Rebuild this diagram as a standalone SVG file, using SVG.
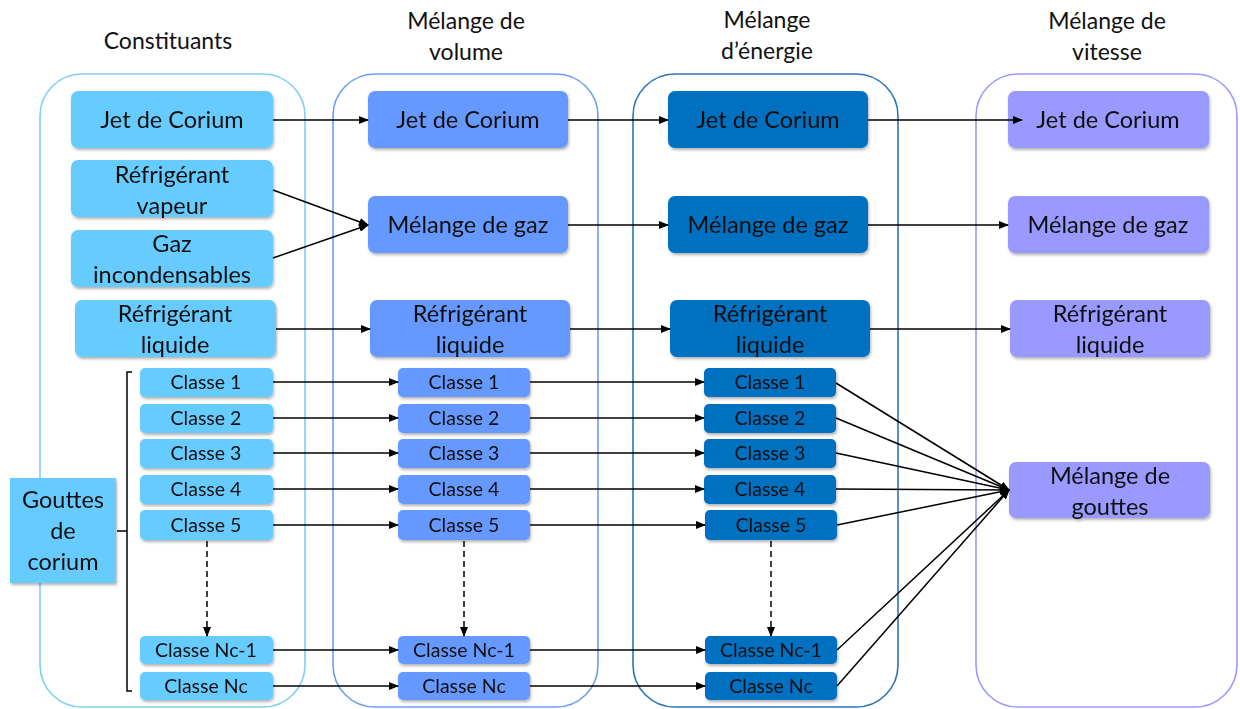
<svg xmlns="http://www.w3.org/2000/svg" width="1240" height="709" viewBox="0 0 1240 709">
<style>
text{font-family:Lato,"Open Sans","Liberation Sans",sans-serif;fill:#111;text-anchor:middle}
.h{font-size:23px}
.b{font-size:23.5px}
.c{font-size:19.5px}
.cont{fill:#fff;stroke-width:1.6}
.n1{fill:#66CCFF}
.n2{fill:#6699FF}
.n3{fill:#0070C0}
.n4{fill:#9999FF}
.ln{stroke:#000;stroke-width:1.5;fill:none}
.dash{stroke:#000;stroke-width:1.5;fill:none;stroke-dasharray:6,4}
</style>
<defs>
<marker id="ar" markerWidth="10" markerHeight="8" refX="9" refY="4" orient="auto" markerUnits="userSpaceOnUse">
<path d="M0,0 L10,4 L0,8 z" fill="#000"/>
</marker>
<filter id="sh" x="-10%" y="-10%" width="120%" height="130%">
<feDropShadow dx="1" dy="2" stdDeviation="1.5" flood-color="#000" flood-opacity="0.3"/>
</filter>
</defs>
<rect width="1240" height="709" fill="#fff"/>

<g id="headers">
<text class="h" x="168" y="49">Constituants</text>
<text class="h" x="466" y="29">Mélange de</text>
<text class="h" x="466" y="60">volume</text>
<text class="h" x="767" y="28">Mélange</text>
<text class="h" x="767" y="59">d’énergie</text>
<text class="h" x="1107" y="29">Mélange de</text>
<text class="h" x="1107" y="60">vitesse</text>
</g>

<g id="containers">
<rect class="cont" x="40" y="74" width="265" height="633" rx="42" stroke="#7FCFF5"/>
<rect class="cont" x="333" y="74" width="265" height="633" rx="42" stroke="#6C9EF0"/>
<rect class="cont" x="633" y="74" width="265" height="633" rx="42" stroke="#2E75B6"/>
<rect class="cont" x="976" y="74" width="261" height="633" rx="42" stroke="#9999FF"/>
</g>

<g id="col1" filter="url(#sh)">
<g id="c1-jet"><rect class="n1" x="71" y="91" width="202" height="57" rx="7"/><text class="b" x="172" y="128">Jet de Corium</text></g>
<g id="c1-vap"><rect class="n1" x="71" y="160" width="202" height="57" rx="7"/><text class="b" x="172" y="183">Réfrigérant</text><text class="b" x="172" y="214">vapeur</text></g>
<g id="c1-gaz"><rect class="n1" x="71" y="230" width="202" height="57" rx="7"/><text class="b" x="172" y="252">Gaz</text><text class="b" x="172" y="283">incondensables</text></g>
<g id="c1-liq"><rect class="n1" x="75" y="300" width="201" height="57" rx="7"/><text class="b" x="175" y="322">Réfrigérant</text><text class="b" x="175" y="353">liquide</text></g>
<g id="c1-gouttes"><rect class="n1" x="10" y="478" width="106" height="105"/><text class="b" x="63" y="508">Gouttes</text><text class="b" x="63" y="539">de</text><text class="b" x="63" y="570">corium</text></g>
<g id="c1-k1"><rect class="n1" x="140" y="368" width="133" height="29" rx="5"/><text class="c" x="206" y="389">Classe 1</text></g>
<g id="c1-k2"><rect class="n1" x="140" y="404" width="133" height="29" rx="5"/><text class="c" x="206" y="425">Classe 2</text></g>
<g id="c1-k3"><rect class="n1" x="140" y="439" width="133" height="29" rx="5"/><text class="c" x="206" y="460">Classe 3</text></g>
<g id="c1-k4"><rect class="n1" x="140" y="475" width="133" height="29" rx="5"/><text class="c" x="206" y="496">Classe 4</text></g>
<g id="c1-k5"><rect class="n1" x="140" y="510" width="133" height="30" rx="5"/><text class="c" x="206" y="532">Classe 5</text></g>
<g id="c1-knc1"><rect class="n1" x="140" y="636" width="133" height="28" rx="5"/><text class="c" x="206" y="657">Classe Nc-1</text></g>
<g id="c1-knc"><rect class="n1" x="140" y="672" width="133" height="28" rx="5"/><text class="c" x="206" y="693">Classe Nc</text></g>
</g>

<g id="col2" filter="url(#sh)">
<g id="c2-jet"><rect class="n2" x="368" y="91" width="200" height="57" rx="7"/><text class="b" x="468" y="128">Jet de Corium</text></g>
<g id="c2-gaz"><rect class="n2" x="368" y="196" width="200" height="57" rx="7"/><text class="b" x="468" y="233">Mélange de gaz</text></g>
<g id="c2-liq"><rect class="n2" x="370" y="300" width="200" height="57" rx="7"/><text class="b" x="470" y="322">Réfrigérant</text><text class="b" x="470" y="353">liquide</text></g>
<g id="c2-k1"><rect class="n2" x="398" y="368" width="132" height="29" rx="5"/><text class="c" x="464" y="389">Classe 1</text></g>
<g id="c2-k2"><rect class="n2" x="398" y="404" width="132" height="29" rx="5"/><text class="c" x="464" y="425">Classe 2</text></g>
<g id="c2-k3"><rect class="n2" x="398" y="439" width="132" height="29" rx="5"/><text class="c" x="464" y="460">Classe 3</text></g>
<g id="c2-k4"><rect class="n2" x="398" y="475" width="132" height="29" rx="5"/><text class="c" x="464" y="496">Classe 4</text></g>
<g id="c2-k5"><rect class="n2" x="398" y="510" width="132" height="30" rx="5"/><text class="c" x="464" y="532">Classe 5</text></g>
<g id="c2-knc1"><rect class="n2" x="398" y="636" width="132" height="28" rx="5"/><text class="c" x="464" y="657">Classe Nc-1</text></g>
<g id="c2-knc"><rect class="n2" x="398" y="672" width="132" height="28" rx="5"/><text class="c" x="464" y="693">Classe Nc</text></g>
</g>

<g id="col3" filter="url(#sh)">
<g id="c3-jet"><rect class="n3" x="668" y="91" width="200" height="57" rx="7"/><text class="b" x="768" y="128">Jet de Corium</text></g>
<g id="c3-gaz"><rect class="n3" x="668" y="196" width="200" height="57" rx="7"/><text class="b" x="768" y="233">Mélange de gaz</text></g>
<g id="c3-liq"><rect class="n3" x="670" y="300" width="200" height="57" rx="7"/><text class="b" x="770" y="322">Réfrigérant</text><text class="b" x="770" y="353">liquide</text></g>
<g id="c3-k1"><rect class="n3" x="704" y="368" width="132" height="29" rx="5"/><text class="c" x="770" y="389">Classe 1</text></g>
<g id="c3-k2"><rect class="n3" x="704" y="404" width="132" height="29" rx="5"/><text class="c" x="770" y="425">Classe 2</text></g>
<g id="c3-k3"><rect class="n3" x="704" y="439" width="132" height="29" rx="5"/><text class="c" x="770" y="460">Classe 3</text></g>
<g id="c3-k4"><rect class="n3" x="704" y="475" width="132" height="29" rx="5"/><text class="c" x="770" y="496">Classe 4</text></g>
<g id="c3-k5"><rect class="n3" x="705" y="510" width="132" height="30" rx="5"/><text class="c" x="771" y="532">Classe 5</text></g>
<g id="c3-knc1"><rect class="n3" x="705" y="636" width="132" height="28" rx="5"/><text class="c" x="771" y="657">Classe Nc-1</text></g>
<g id="c3-knc"><rect class="n3" x="705" y="672" width="132" height="28" rx="5"/><text class="c" x="771" y="693">Classe Nc</text></g>
</g>

<g id="col4" filter="url(#sh)">
<g id="c4-jet"><rect class="n4" x="1008" y="91" width="201" height="57" rx="7"/><text class="b" x="1108" y="128">Jet de Corium</text></g>
<g id="c4-gaz"><rect class="n4" x="1008" y="196" width="201" height="57" rx="7"/><text class="b" x="1108" y="233">Mélange de gaz</text></g>
<g id="c4-liq"><rect class="n4" x="1010" y="300" width="200" height="57" rx="7"/><text class="b" x="1110" y="322">Réfrigérant</text><text class="b" x="1110" y="353">liquide</text></g>
<g id="c4-gouttes"><rect class="n4" x="1009" y="462" width="201" height="56" rx="7"/><text class="b" x="1110" y="484">Mélange de</text><text class="b" x="1110" y="515">gouttes</text></g>
</g>

<g id="connectors">
<path class="ln" d="M132,372 H127 V691 H132 M117,531 H127"/>
<path class="ln" marker-end="url(#ar)" d="M273,120 H368"/>
<path class="ln" marker-end="url(#ar)" d="M273,190 L368,225"/>
<path class="ln" marker-end="url(#ar)" d="M273,258 L368,225"/>
<path class="ln" marker-end="url(#ar)" d="M276,329 H370"/>
<path class="ln" marker-end="url(#ar)" d="M273,382 H398"/>
<path class="ln" marker-end="url(#ar)" d="M273,418 H398"/>
<path class="ln" marker-end="url(#ar)" d="M273,453 H398"/>
<path class="ln" marker-end="url(#ar)" d="M273,489 H398"/>
<path class="ln" marker-end="url(#ar)" d="M273,525 H398"/>
<path class="ln" marker-end="url(#ar)" d="M273,650 H398"/>
<path class="ln" marker-end="url(#ar)" d="M273,686 H398"/>
<path class="ln" marker-end="url(#ar)" d="M568,120 H668"/>
<path class="ln" marker-end="url(#ar)" d="M568,225 H668"/>
<path class="ln" marker-end="url(#ar)" d="M570,329 H670"/>
<path class="ln" marker-end="url(#ar)" d="M530,382 H704"/>
<path class="ln" marker-end="url(#ar)" d="M530,418 H704"/>
<path class="ln" marker-end="url(#ar)" d="M530,453 H704"/>
<path class="ln" marker-end="url(#ar)" d="M530,489 H704"/>
<path class="ln" marker-end="url(#ar)" d="M530,525 H705"/>
<path class="ln" marker-end="url(#ar)" d="M530,650 H705"/>
<path class="ln" marker-end="url(#ar)" d="M530,686 H705"/>
<path class="ln" marker-end="url(#ar)" d="M868,120 H1022"/>
<path class="ln" marker-end="url(#ar)" d="M868,225 H1008"/>
<path class="ln" marker-end="url(#ar)" d="M870,329 H1010"/>
<path class="ln" marker-end="url(#ar)" d="M836,383 L1009,490"/>
<path class="ln" marker-end="url(#ar)" d="M836,418 L1009,490"/>
<path class="ln" marker-end="url(#ar)" d="M836,453 L1009,490"/>
<path class="ln" marker-end="url(#ar)" d="M836,489 L1009,490"/>
<path class="ln" marker-end="url(#ar)" d="M837,525 L1009,490"/>
<path class="ln" marker-end="url(#ar)" d="M837,650 L1009,490"/>
<path class="ln" marker-end="url(#ar)" d="M837,686 L1009,490"/>
<path class="dash" marker-end="url(#ar)" d="M207,541 V636"/>
<path class="dash" marker-end="url(#ar)" d="M464,541 V636"/>
<path class="dash" marker-end="url(#ar)" d="M771,541 V636"/>
</g>
</svg>
